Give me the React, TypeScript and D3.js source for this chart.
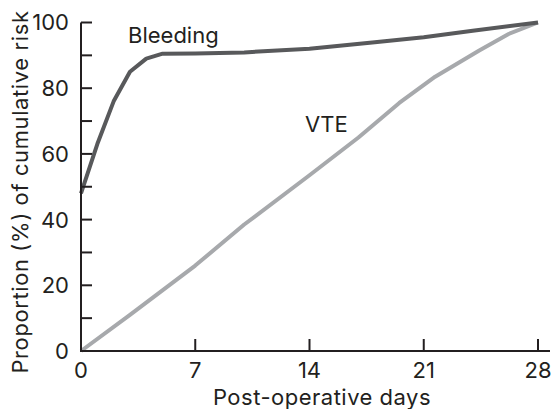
import React from 'react';
import * as d3 from 'd3';

// values
const bleedingDays = [0, 1, 2, 3, 4, 5, 7, 10, 14, 18, 21, 24, 28];
const bleedingRisk = [48, 63, 76, 85, 89, 90.5, 90.6, 90.9, 92, 94, 95.5, 97.5, 100];
const vteDays = [0, 3, 7, 10, 14, 17, 19.5, 21.7, 24.4, 26.2, 28];
const vteRisk = [0, 11, 26, 38.5, 53.5, 65, 75.5, 83.5, 91.5, 96.5, 100];
const xTicks = [0, 7, 14, 21, 28];
const yTicks = [0, 10, 20, 30, 40, 50, 60, 70, 80, 90, 100];
const yLabels = [0, 20, 40, 60, 80, 100];

const width = 552;
const height = 409;
const font = 'Inter, Roboto, sans-serif';
const ink = '#231f20';

const App = () => {
  const x = d3.scaleLinear().domain([0, 28]).range([81, 538]);
  const y = d3.scaleLinear().domain([0, 100]).range([351, 22.5]);
  const line = d3.line<[number, number]>()
    .x(d => x(d[0]))
    .y(d => y(d[1]));

  const bleeding = bleedingDays.map((d, i) => [d, bleedingRisk[i]] as [number, number]);
  const vte = vteDays.map((d, i) => [d, vteRisk[i]] as [number, number]);

  return (
    <svg width={width} height={height} style={{position: 'absolute', left: 0, top: 0}}
      fontFamily={font} fill={ink} fontSize={22}>
      <path d={line(vte) || ''} fill="none" stroke="#a7a9ac" strokeWidth={4}
        strokeLinejoin="round" />
      <path d={line(bleeding) || ''} fill="none" stroke="#58595b" strokeWidth={4}
        strokeLinejoin="round" />

      {/* axes */}
      <line x1={x(0)} x2={550} y1={y(0)} y2={y(0)} stroke={ink} strokeWidth={2} />
      <line x1={x(0)} x2={x(0)} y1={y(0) + 1} y2={y(100)} stroke={ink} strokeWidth={2} />
      {yTicks.map(t => (
        <line key={'yt' + t} x1={x(0)} x2={x(0) + 11} y1={y(t)} y2={y(t)} stroke={ink} strokeWidth={2} />
      ))}
      {yLabels.map(t => (
        <text key={'yl' + t} x={69} y={y(t)} dy="0.36em" textAnchor="end">{t}</text>
      ))}
      {xTicks.filter(t => t > 0).map(t => (
        <line key={'xt' + t} x1={x(t)} x2={x(t)} y1={y(0)} y2={y(0) - 12} stroke={ink} strokeWidth={2} />
      ))}
      {xTicks.map(t => (
        <text key={'xl' + t} x={x(t)} y={378} textAnchor="middle">{t}</text>
      ))}

      <text x={322} y={405} textAnchor="middle" letterSpacing={0.5}>Post-operative days</text>
      <text transform="translate(28,192) rotate(-90)" textAnchor="middle" letterSpacing={0.6}>
        Proportion (%) of cumulative risk
      </text>

      <text x={128} y={43}>Bleeding</text>
      <text x={305} y={132}>VTE</text>
    </svg>
  );
};

export default App;
